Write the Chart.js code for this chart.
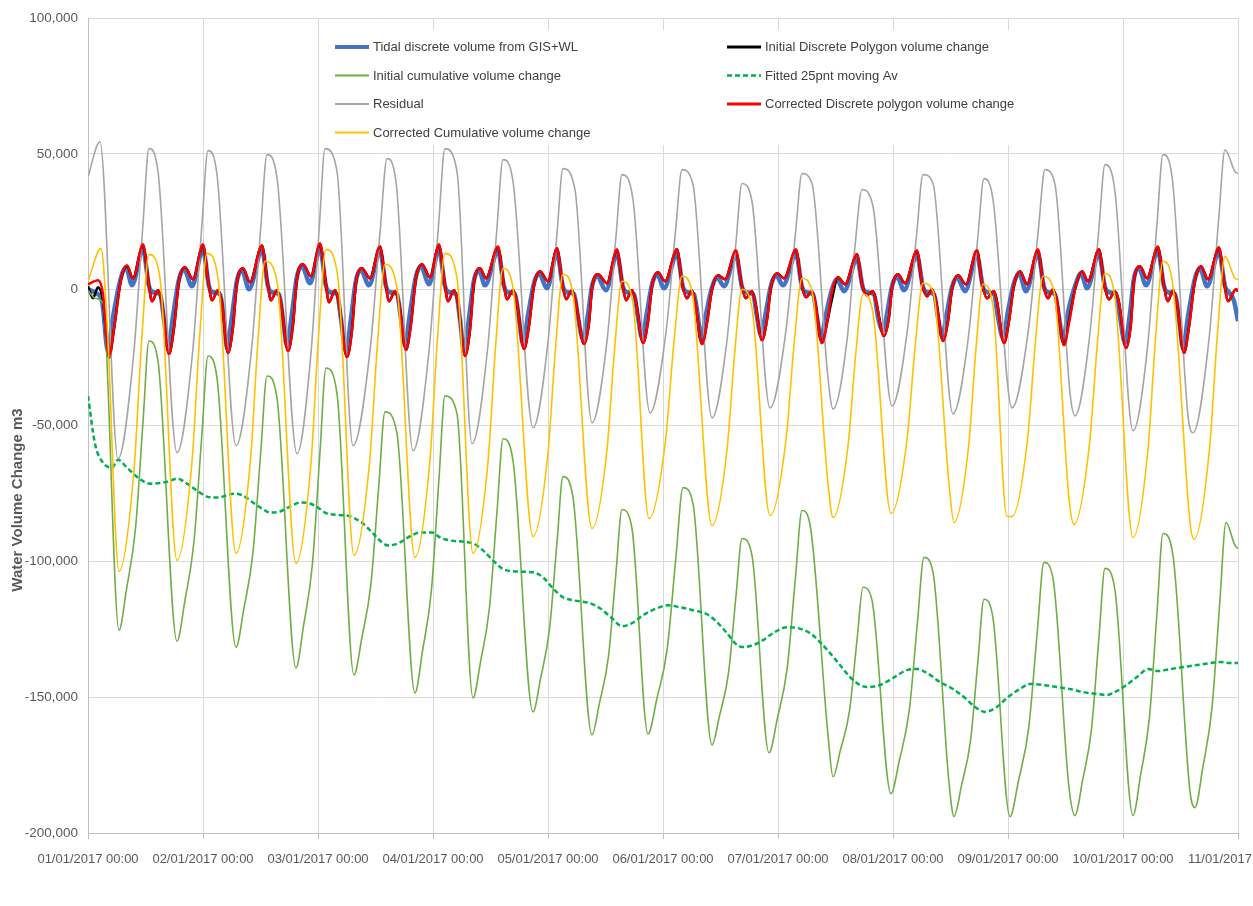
<!DOCTYPE html>
<html><head><meta charset="utf-8">
<script src="https://cdn.jsdelivr.net/npm/chart.js@4.4.1/dist/chart.umd.min.js"></script>
<style>html,body{margin:0;padding:0;background:#fff;overflow:hidden}canvas{display:block}</style>
</head><body>
<canvas id="c" width="1253" height="906"></canvas>
<script>
const dayLabels = ['01/01/2017 00:00','02/01/2017 00:00','03/01/2017 00:00','04/01/2017 00:00','05/01/2017 00:00','06/01/2017 00:00','07/01/2017 00:00','08/01/2017 00:00','09/01/2017 00:00','10/01/2017 00:00','11/01/2017 00:00'];
const yTicks = [-200000,-150000,-100000,-50000,0,50000,100000];
const yAxisTitle = 'Water Volume Change m3';
const seriesNames = ['Tidal discrete volume from GIS+WL','Initial Discrete Polygon volume change','Initial cumulative volume change','Fitted 25pnt moving Av','Residual','Corrected Discrete polygon volume change','Corrected Cumulative volume change'];

// [hours since 01/01/2017 00:00, m3]
const tidalDiscrete = [
[0,180],[1.67,-1280],[2.92,-4220],
[4.17,-22570],[5.22,-10090],[6.89,4590],[7.93,8260],[9.18,1650],[11.48,14860],[12.73,1280],[13.57,-920],[15.03,-1650],[15.86,-10830],
[16.70,-21840],[17.74,-9730],[18.99,3850],[20.03,7520],[21.70,1280],[24.00,14860],[25.25,1280],[26.09,-920],[27.55,-1650],[28.38,-10830],
[29.01,-21470],[30.05,-9730],[31.10,3490],[32.14,7160],[33.60,180],[36.31,14500],[37.57,1280],[38.40,-920],[39.86,-1650],[40.70,-10830],
[41.53,-20740],[42.57,-8620],[43.62,4950],[44.66,8620],[46.33,2390],[48.42,15230],[49.67,1280],[50.50,-920],[51.97,-1650],[52.80,-10830],
[53.84,-22940],[54.89,-10460],[55.93,3490],[56.97,7160],[58.64,1650],[60.94,14130],[62.19,1280],[63.03,-920],[64.49,-1650],[65.32,-10830],
[66.16,-20370],[67.20,-8620],[68.45,4950],[69.50,8620],[71.17,2020],[73.25,14860],[74.50,1280],[75.34,-920],[76.80,-1650],[77.63,-10830],
[78.47,-22570],[79.51,-10460],[80.56,3490],[81.60,7160],[82.85,1650],[85.57,14130],[86.82,1280],[87.65,-920],[89.11,-1650],[89.95,-10830],
[90.78,-20000],[91.83,-9360],[93.08,2390],[94.12,6060],[95.79,550],[97.88,13400],[99.13,920],[99.97,-920],[101.43,-1650],[102.26,-10090],
[103.30,-18170],[104.35,-8990],[105.18,1280],[106.23,4950],[108.10,-180],[110.40,13030],[111.65,920],[112.49,-920],[113.95,-1650],[114.78,-10090],
[115.62,-17800],[116.66,-8260],[117.71,2020],[118.75,5690],[120.21,550],[122.92,13030],[124.17,920],[125.01,-920],[126.47,-1650],[127.30,-10090],
[127.93,-18170],[128.97,-8990],[130.23,920],[131.27,4590],[132.73,1280],[135.23,12660],[136.49,920],[137.32,-920],[138.78,-1650],[139.62,-10090],
[140.45,-16700],[141.50,-7890],[142.54,1650],[143.58,5320],[145.04,1650],[147.76,13030],[149.01,920],[149.84,-920],[151.31,-1650],[152.14,-10090],
[152.98,-17800],[154.02,-8990],[155.27,180],[156.31,3850],[157.77,-550],[160.49,11190],[161.74,550],[162.57,-920],[164.03,-1650],[164.87,-10090],
[165.91,-15230],[166.96,-6790],[167.79,1280],[168.83,4950],[170.30,-180],[173.01,12660],[174.26,920],[175.10,-920],[176.56,-1650],[177.39,-10090],
[178.23,-17070],[179.27,-8260],[180.31,920],[181.36,4590],[183.03,-550],[185.53,12660],[186.78,920],[187.62,-920],[189.08,-1650],[189.91,-10090],
[190.96,-17800],[192.00,-7890],[193.25,2390],[194.30,6060],[195.76,-550],[198.26,13030],[199.51,920],[200.35,-920],[201.81,-1650],[202.64,-10090],
[203.48,-18530],[204.52,-8260],[206.19,2390],[207.24,6060],[208.49,550],[210.99,13030],[212.24,920],[213.08,-920],[214.54,-1650],[215.37,-10090],
[216.42,-19630],[217.46,-8620],[218.30,4220],[219.34,7890],[220.80,1650],[223.30,14130],[224.56,1280],[225.39,-920],[226.85,-1650],[227.69,-10830],
[228.52,-21470],[229.57,-9730],[231.03,4220],[232.07,7890],[233.53,1280],[236.03,13760],[237.29,1280],[238.12,-920],[239.17,-4220],[240,-11560]
];

const initialDiscrete = [
[0,1280],[1.04,-3120],[2.09,920],[3.13,-4220],[4.38,-25140],[5.43,-14500],[6.89,3850],[8.14,8620],[9.39,4220],[11.48,16330],[12.52,4220],[13.36,-4220],[14.61,-180],[15.44,-4950],
[16.90,-23670],[17.95,-14130],[18.99,3120],[20.24,8260],[21.91,3850],[24.00,16330],[25.04,3850],[25.88,-3850],[27.13,-180],[27.97,-4950],
[29.22,-23300],[30.26,-13760],[31.10,2750],[32.35,7890],[33.81,2750],[36.31,16330],[37.36,3850],[38.19,-3850],[39.44,-180],[40.28,-4950],
[41.74,-22570],[42.78,-13030],[43.62,4220],[44.87,9360],[46.54,4950],[48.42,16700],[49.46,4590],[50.30,-4590],[51.55,-180],[52.38,-4950],
[54.05,-24770],[55.10,-14860],[55.93,2750],[57.18,7890],[58.85,4220],[60.94,15960],[61.98,3850],[62.82,-4220],[64.07,-550],[64.91,-4950],
[66.37,-22200],[67.41,-12660],[68.45,4220],[69.71,9360],[71.37,4590],[73.25,16330],[74.30,4220],[75.13,-4220],[76.38,-180],[77.22,-4950],
[78.68,-24400],[79.72,-14860],[80.56,2750],[81.81,7890],[83.06,4220],[85.57,15600],[86.61,3850],[87.44,-3490],[88.70,-180],[89.53,-4950],
[90.99,-21840],[92.03,-13400],[93.08,1650],[94.33,6790],[96.00,3120],[97.88,15230],[98.92,3120],[99.76,-3490],[101.01,-180],[101.84,-4950],
[103.51,-20000],[104.56,-12290],[105.18,550],[106.43,5690],[108.31,2390],[110.40,14500],[111.44,3120],[112.28,-3850],[113.53,-180],[114.37,-4590],
[115.83,-19630],[116.87,-11930],[117.71,1280],[118.96,6420],[120.42,3120],[122.92,14860],[123.97,2390],[125.01,-3120],[126.05,-180],[126.68,-4220],
[128.14,-20000],[129.18,-12290],[130.23,180],[131.48,5320],[132.94,3850],[135.23,14130],[136.28,3120],[137.32,-3120],[138.57,-550],[139.20,-4220],
[140.66,-18530],[141.70,-11190],[142.54,920],[143.79,6060],[145.25,4220],[147.76,14500],[148.80,3120],[149.84,-2750],[151.10,-550],[151.72,-4220],
[153.18,-19630],[154.23,-12290],[155.27,-3500],[156.52,4590],[157.98,2020],[160.49,13030],[161.53,2020],[162.57,-2020],[163.83,-550],[164.45,-4220],
[166.12,-17070],[167.17,-10090],[167.79,550],[169.04,5690],[170.50,2390],[173.01,14130],[174.05,2390],[175.10,-2390],[176.14,180],[176.98,-4220],
[178.44,-18900],[179.48,-11560],[180.31,180],[181.57,5320],[183.23,2020],[185.53,14500],[186.57,2390],[187.62,-3120],[189.08,-550],[189.70,-4220],
[191.17,-19630],[192.21,-11560],[193.25,1650],[194.50,6790],[195.97,2020],[198.26,14500],[199.30,2750],[200.35,-3120],[201.39,180],[202.23,-4220],
[203.69,-20370],[204.73,-11300],[206.19,1650],[207.45,6790],[208.70,3120],[210.99,14860],[212.03,2750],[213.08,-3490],[214.33,-550],[215.16,-4590],
[216.63,-21470],[217.67,-12290],[218.30,3490],[219.55,8620],[221.01,4220],[223.30,15600],[224.35,3490],[225.39,-4220],[226.43,-180],[227.27,-4950],
[228.73,-23300],[229.77,-13760],[231.03,3490],[232.28,8620],[233.74,3850],[236.03,15230],[237.08,3120],[237.91,-4220],[239.58,180],[240,-550]
];

const initialCumulative = [
[0,-180],[1.46,-3120],[3.13,-4950],[6.47,-125330],[8.03,-110280],[9.91,-87900],[11.48,-48630],[12.73,-18900],[14.61,-26240],
[18.57,-129370],[20.20,-114690],[22.12,-92670],[23.75,-53770],[25.04,-24400],[26.92,-32480],
[30.89,-131570],[32.51,-117620],[34.43,-96700],[36.06,-59640],[37.36,-31750],[39.44,-39820],
[43.41,-139280],[44.97,-123860],[46.85,-100740],[48.42,-59640],[49.67,-28810],[51.97,-38350],
[55.51,-141850],[57.14,-128270],[59.06,-108080],[60.69,-72120],[61.98,-44960],[64.49,-53030],
[68.24,-148450],[69.81,-133040],[71.69,-110280],[73.25,-69550],[74.50,-39090],[77.01,-45690],
[80.35,-150290],[81.91,-137070],[83.79,-116890],[85.36,-81660],[86.61,-54870],[88.70,-62940],
[92.87,-155420],[94.43,-143310],[96.31,-124960],[97.88,-93030],[99.13,-68810],[101.22,-76520],
[105.18,-163870],[106.75,-152120],[108.63,-134870],[110.19,-104040],[111.44,-80920],[113.53,-87900],
[116.87,-163500],[118.71,-150650],[120.90,-131940],[122.71,-98170],[124.17,-72850],[126.26,-78720],
[130.23,-167540],[131.79,-156890],[133.67,-141110],[135.23,-112850],[136.49,-91570],[138.57,-97810],
[142.12,-170470],[143.85,-157990],[145.92,-139280],[147.63,-106250],[149.01,-81290],[150.68,-86430],
[154.43,-163870],[155.48,-179280],[157.04,-169370],[158.92,-155060],[160.49,-129000],[161.74,-109550],[163.62,-114320],
[167.58,-185520],[169.31,-173410],[171.38,-155060],[173.09,-122760],[174.47,-98540],[176.35,-104040],
[179.69,-181480],[180.73,-193960],[182.29,-182580],[184.17,-166070],[185.74,-136340],[186.99,-113950],[188.87,-120930],
[192.42,-193960],[194.19,-180750],[196.32,-161300],[198.09,-126430],[199.51,-100370],[201.39,-106250],
[204.73,-183320],[205.98,-193590],[207.55,-180750],[209.43,-161660],[210.99,-127900],[212.24,-102580],[214.33,-110650],
[218.09,-193590],[219.65,-178910],[221.53,-157260],[223.10,-118720],[224.35,-89730],[226.43,-97810],
[229.99,-184780],[231.03,-190660],[232.65,-175980],[234.57,-153960],[236.20,-115050],[237.50,-85690],[239.37,-94140],[240,-95240]
];

const fittedMovingAv = [
[0,-39090],[1.46,-56700],[3.13,-63670],[5.01,-65510],[6.26,-62580],[8.14,-65510],[10.43,-69180],[12.94,-71380],[16.70,-70650],[18.57,-69550],
[20.66,-71380],[22.75,-73950],[24.83,-76150],[26.92,-76520],[30.68,-75050],[32.35,-75790],[34.43,-78360],[36.31,-80560],[37.98,-82030],[40.07,-81660],
[42.16,-79820],[44.24,-78360],[46.33,-78720],[48.00,-80190],[49.88,-82390],[54.05,-83130],[55.30,-83860],[57.39,-86060],[59.48,-89730],[61.36,-93030],
[62.61,-94140],[64.70,-93400],[66.78,-91200],[69.29,-89370],[71.79,-89370],[73.46,-91200],[75.55,-92300],[80.35,-93400],[82.43,-95970],[84.52,-99640],
[86.40,-102580],[88.70,-103680],[92.87,-104040],[94.96,-105880],[97.04,-109920],[99.13,-113220],[101.22,-114320],[104.77,-115420],[106.85,-117260],[109.36,-120930],
[111.44,-123860],[113.53,-122760],[115.83,-119830],[118.75,-117260],[121.04,-116160],[123.55,-116890],[126.26,-117990],[129.18,-119460],[131.27,-122390],[133.36,-126430],
[135.03,-130100],[136.70,-131570],[138.78,-130840],[140.87,-129000],[142.96,-126430],[145.88,-124230],[148.17,-124590],[150.68,-126430],[152.77,-129730],[154.85,-133770],
[156.94,-138170],[159.03,-142580],[161.11,-145520],[162.78,-146250],[165.29,-145520],[168.00,-142950],[170.92,-140020],[173.01,-139650],[175.10,-141120],[177.81,-144420],
[180.52,-146990],[183.03,-150290],[185.11,-153590],[187.20,-155420],[189.70,-153590],[192.00,-149920],[194.50,-146990],[196.59,-145150],[199.30,-145520],[202.23,-146250],
[204.94,-146990],[207.65,-148090],[210.57,-148820],[212.66,-149190],[214.33,-148090],[216.42,-145890],[218.92,-142580],[221.22,-139650],[223.30,-140380],[225.81,-139650],
[228.52,-138910],[231.44,-138170],[234.16,-137440],[236.24,-137070],[238.33,-137440],[240,-137440]
];

const residual = [
[0,41650],[2.5,54500],[6.26,-62210],[9.5,-24400],[11.44,23300],[12.73,51930],[14.61,43490],
[18.57,-60000],[21.81,-23300],[23.75,23300],[25.04,51200],[26.92,42390],
[30.89,-57440],[34.12,-22200],[36.06,22940],[37.36,49730],[39.44,41290],
[43.62,-60370],[46.54,-23300],[48.29,23670],[49.46,51930],[51.97,43490],
[55.30,-57440],[58.85,-22570],[60.98,21840],[62.40,48260],[64.28,39820],
[67.83,-59270],[71.17,-22570],[73.17,24040],[74.50,51930],[77.01,43490],
[80.14,-56700],[83.37,-22200],[85.31,21840],[86.61,47890],[88.70,39820],
[92.87,-50830],[96.00,-19270],[97.88,20740],[99.13,44590],[101.63,36880],
[105.18,-48990],[108.31,-18900],[110.19,19630],[111.44,42390],[113.74,33210],
[117.29,-45320],[120.63,-15600],[122.63,21840],[123.97,44220],[126.26,38720],
[130.23,-47160],[133.36,-18530],[135.23,17430],[136.49,39090],[138.57,32480],
[142.33,-43490],[145.67,-14860],[147.67,21100],[149.01,42760],[151.10,39090],
[154.43,-32480],[155.48,-43860],[158.50,-17070],[160.11,16700],[161.53,36880],[163.83,30640],
[167.79,-42760],[171.03,-14500],[172.97,21100],[174.26,42390],[176.35,39090],
[180.52,-45690],[183.76,-17070],[185.70,19270],[186.99,40920],[188.87,33210],
[192.83,-43490],[196.28,-14500],[198.34,22200],[199.72,44220],[201.81,38720],
[204.94,-37980],[205.98,-46430],[209.11,-15960],[210.99,22940],[212.24,46060],[214.33,36150],
[218.09,-51930],[221.22,-19270],[223.10,24410],[224.35,49730],[226.23,41650],
[229.57,-46430],[230.61,-52660],[233.95,-18170],[235.95,25510],[237.29,51560],[239.37,43490],[240,42760]
];

const correctedDiscrete = [
[0,2020],[2.09,3490],[3.13,-1650],[4.38,-24400],[5.43,-14500],[6.89,3850],[8.14,8990],[9.39,4220],[11.48,16700],[12.52,4220],[13.36,-4220],[14.61,-180],[15.44,-4950],
[16.90,-23670],[17.95,-14130],[18.99,3120],[20.24,8260],[21.91,3850],[24.00,16700],[25.04,3850],[25.88,-3850],[27.13,-180],[27.97,-4950],
[29.22,-23300],[30.26,-13760],[31.10,2750],[32.35,7890],[33.81,2750],[36.31,16330],[37.36,3850],[38.19,-3850],[39.44,-180],[40.28,-4950],
[41.74,-22570],[42.78,-13030],[43.62,4220],[44.87,9360],[46.54,4950],[48.42,17070],[49.46,4590],[50.30,-4590],[51.55,-180],[52.38,-4950],
[54.05,-24770],[55.10,-14860],[55.93,2750],[57.18,7890],[58.85,4220],[60.94,15960],[61.98,3850],[62.82,-4220],[64.07,-550],[64.91,-4950],
[66.37,-22200],[67.41,-12660],[68.45,4220],[69.71,9360],[71.37,4590],[73.25,16700],[74.30,4220],[75.13,-4220],[76.38,-180],[77.22,-4950],
[78.68,-24400],[79.72,-14860],[80.56,2750],[81.81,7890],[83.06,4220],[85.57,15960],[86.61,3850],[87.44,-3490],[88.70,-180],[89.53,-4950],
[90.99,-21840],[92.03,-13400],[93.08,1650],[94.33,6790],[96.00,3120],[97.88,15230],[98.92,3120],[99.76,-3490],[101.01,-180],[101.84,-4950],
[103.51,-20000],[104.56,-12290],[105.18,550],[106.43,5690],[108.31,2390],[110.40,14860],[111.44,3120],[112.28,-3850],[113.53,-180],[114.37,-4590],
[115.83,-19630],[116.87,-11930],[117.71,1280],[118.96,6420],[120.42,3120],[122.92,14860],[123.97,2390],[125.01,-3120],[126.05,-180],[126.68,-4220],
[128.14,-20000],[129.18,-12290],[130.23,180],[131.48,5320],[132.94,3850],[135.23,14500],[136.28,3120],[137.32,-3120],[138.57,-550],[139.20,-4220],
[140.66,-18530],[141.70,-11190],[142.54,920],[143.79,6060],[145.25,4220],[147.76,14860],[148.80,3120],[149.84,-2750],[151.10,-550],[151.72,-4220],
[153.18,-19630],[154.23,-12290],[155.27,-550],[156.52,4590],[157.98,2020],[160.49,13030],[161.53,2020],[162.57,-2020],[163.83,-550],[164.45,-4220],
[166.12,-17070],[167.17,-10090],[167.79,550],[169.04,5690],[170.50,2390],[173.01,14500],[174.05,2390],[175.10,-2390],[176.14,180],[176.98,-4220],
[178.44,-18900],[179.48,-11560],[180.31,180],[181.57,5320],[183.23,2020],[185.53,14500],[186.57,2390],[187.62,-3120],[189.08,-550],[189.70,-4220],
[191.17,-19630],[192.21,-11560],[193.25,1650],[194.50,6790],[195.97,2020],[198.26,14860],[199.30,2750],[200.35,-3120],[201.39,180],[202.23,-4220],
[203.69,-20370],[204.73,-12290],[206.19,1650],[207.45,6790],[208.70,3120],[210.99,14860],[212.03,2750],[213.08,-3490],[214.33,-550],[215.16,-4590],
[216.63,-21470],[217.67,-12290],[218.30,3490],[219.55,8620],[221.01,4220],[223.30,15960],[224.35,3490],[225.39,-4220],[226.43,-180],[227.27,-4950],
[228.73,-23300],[229.77,-13760],[231.03,3490],[232.28,8620],[233.74,3850],[236.03,15600],[237.08,3120],[237.91,-4220],[239.58,180],[240,-550]
];

const correctedCumulative = [
[0,3120],[2.71,15230],[3.97,-11560],[6.47,-103680],[9.60,-66240],[11.17,-19630],[12.73,13030],[15.03,4220],
[18.57,-99640],[21.70,-63310],[23.27,-18170],[24.83,13400],[27.13,4220],
[30.89,-97070],[33.91,-62570],[35.44,-19630],[36.94,10460],[39.44,3120],
[43.41,-100740],[46.54,-63670],[48.10,-17430],[49.67,14860],[52.17,4220],
[55.51,-97810],[58.75,-63670],[60.38,-20740],[61.98,9360],[64.49,550],
[68.24,-98540],[71.37,-62570],[72.94,-17800],[74.50,13400],[77.01,4220],
[80.35,-97070],[83.48,-63310],[85.04,-21470],[86.61,7890],[88.70,550],
[92.87,-90830],[96.00,-60000],[97.57,-21470],[99.13,5690],[101.22,-1650],
[105.18,-87900],[108.31,-58900],[109.88,-22200],[111.44,3120],[113.74,-4950],
[117.08,-84230],[120.52,-55600],[122.25,-20000],[123.97,4950],[126.05,-550],
[130.23,-86800],[133.36,-58900],[134.92,-24040],[136.49,180],[138.57,-6790],
[142.33,-83130],[145.67,-55230],[147.34,-20370],[149.01,4220],[151.10,-550],
[154.43,-71380],[155.48,-83860],[158.61,-57440],[160.17,-24770],[161.74,-1650],[163.83,-8620],
[167.58,-82390],[170.92,-55230],[172.59,-21470],[174.26,2390],[176.35,-550],
[179.69,-71380],[180.73,-85690],[183.76,-57800],[185.28,-22570],[186.78,2020],[188.87,-6060],
[191.79,-83490],[192.83,-83490],[196.07,-55230],[197.70,-19630],[199.30,4950],[201.60,-550],
[204.73,-76890],[205.77,-86430],[209.01,-56700],[210.64,-20000],[212.24,6060],[214.33,-3120],
[218.09,-91200],[221.22,-58540],[222.78,-18170],[224.35,10460],[226.43,1280],
[229.99,-85690],[230.82,-91930],[234.05,-58540],[235.68,-17070],[237.29,12290],[239.37,4220],[240,3850]
];

const FONT = '"Liberation Sans", Arial, sans-serif';
const seriesData = [tidalDiscrete, initialDiscrete, initialCumulative, fittedMovingAv, residual, correctedDiscrete, correctedCumulative];
const seriesStyle = [
  {color:'#4472C4', width:4.5, dash:[], order:7, lw:4},
  {color:'#000000', width:2.5, dash:[], order:6, lw:3},
  {color:'#70AD47', width:1.6, dash:[], order:5, lw:2},
  {color:'#00B050', width:2.5, dash:[5,3], order:4, lw:2.5},
  {color:'#A5A5A5', width:1.6, dash:[], order:3, lw:2},
  {color:'#FF0000', width:2.5, dash:[], order:2, lw:3},
  {color:'#FFC000', width:1.6, dash:[], order:1, lw:2}
];

const overlay = {
  id: 'overlay',
  afterDraw(chart) {
    const ctx = chart.ctx;
    ctx.save();
    ctx.translate(18, 500);
    ctx.rotate(-Math.PI / 2);
    ctx.font = 'bold 15px ' + FONT;
    ctx.fillStyle = '#595959';
    ctx.textAlign = 'center';
    ctx.textBaseline = 'middle';
    ctx.fillText(yAxisTitle, 0, 0);
    ctx.restore();

    ctx.save();
    ctx.fillStyle = '#ffffff';
    ctx.fillRect(322, 30, 693, 115);
    const colX = [335, 727];
    const rowY = [47, 75.5, 104, 132.5];
    ctx.font = '13px ' + FONT;
    ctx.textBaseline = 'middle';
    ctx.textAlign = 'left';
    seriesNames.forEach((name, i) => {
      const x = colX[i % 2], y = rowY[Math.floor(i / 2)];
      const st = seriesStyle[i];
      ctx.beginPath();
      ctx.setLineDash(st.dash);
      ctx.strokeStyle = st.color;
      ctx.lineWidth = st.lw;
      ctx.moveTo(x, y);
      ctx.lineTo(x + 34, y);
      ctx.stroke();
      ctx.setLineDash([]);
      ctx.fillStyle = '#404040';
      ctx.fillText(name, x + 38, y + 0.5);
    });
    ctx.restore();
  }
};

new Chart(document.getElementById('c'), {
  type: 'line',
  data: {
    datasets: seriesData.map((d, i) => ({
      label: seriesNames[i],
      data: d,
      borderColor: seriesStyle[i].color,
      backgroundColor: seriesStyle[i].color,
      borderWidth: seriesStyle[i].width,
      borderDash: seriesStyle[i].dash,
      order: seriesStyle[i].order,
      pointRadius: 0,
      fill: false,
      cubicInterpolationMode: 'monotone',
      borderJoinStyle: 'round',
      borderCapStyle: 'butt'
    }))
  },
  options: {
    responsive: false,
    animation: false,
    devicePixelRatio: 1,
    layout: { padding: { top: 18, right: 15, left: 0, bottom: 0 } },
    plugins: { legend: { display: false }, tooltip: { enabled: false } },
    scales: {
      x: {
        type: 'linear', min: 0, max: 240,
        afterBuildTicks: s => { s.ticks = dayLabels.map((_, i) => ({ value: i * 24 })); },
        ticks: { autoSkip: false, maxRotation: 0, minRotation: 0, padding: 13, color: '#595959',
                 font: { family: FONT, size: 13 }, callback: v => dayLabels[Math.round(v / 24)] },
        grid: { color: '#d9d9d9', lineWidth: 1, tickLength: 6, tickColor: '#bfbfbf' },
        border: { color: '#bfbfbf', width: 1 },
        afterFit: s => { s.height = 73; s.paddingLeft = 0; s.paddingRight = 0; }
      },
      y: {
        min: -200000, max: 100000,
        afterBuildTicks: s => { s.ticks = yTicks.map(v => ({ value: v })); },
        ticks: { padding: 10, color: '#595959', font: { family: FONT, size: 13.5 },
                 callback: v => Number(v).toLocaleString('en-US') },
        grid: { color: '#d9d9d9', lineWidth: 1, drawTicks: false },
        border: { color: '#bfbfbf', width: 1 },
        afterFit: s => { s.width = 88; }
      }
    }
  },
  plugins: [overlay]
});
</script>
</body></html>
